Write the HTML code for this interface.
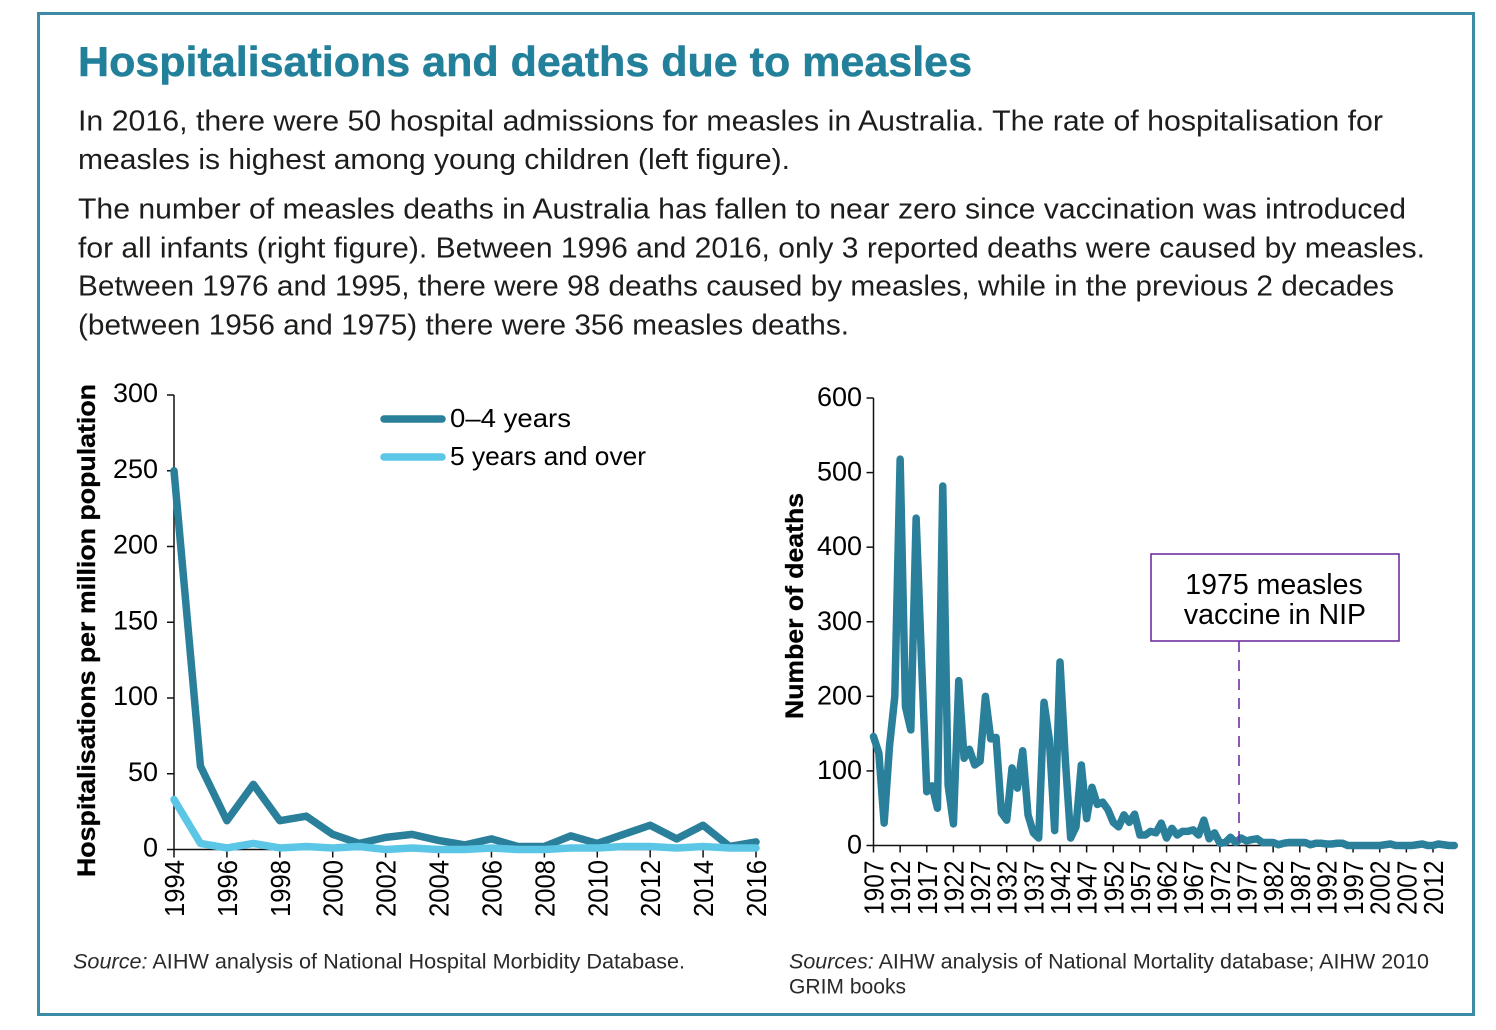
<!DOCTYPE html>
<html lang="en">
<head>
<meta charset="utf-8">
<title>Hospitalisations and deaths due to measles</title>
<style>
html,body{margin:0;padding:0;background:#fff;width:1496px;height:1030px;overflow:hidden}
svg{display:block}
text{font-family:"Liberation Sans",Arial,sans-serif}
.body-line{font-size:28.5px;fill:#1d1d1b}
.source{font-size:21.5px;fill:#2a2a2a}
.tick{font-size:27px;fill:#000}
.legend{font-size:26px;fill:#000}
.xtick{font-size:28px;fill:#000}
.axis-title{font-size:25px;font-weight:bold;fill:#000;stroke:#000;stroke-width:.3}
</style>
</head>
<body>
<svg id="root" width="1496" height="1030" viewBox="0 0 1496 1030" xmlns="http://www.w3.org/2000/svg">
  <rect x="38.5" y="13.5" width="1435" height="1001" fill="#fff" stroke="#3a8ba3" stroke-width="3"/>
  <text x="78" y="76" font-size="42" font-weight="bold" fill="#23809b" stroke="#23809b" stroke-width=".5" textLength="894" lengthAdjust="spacingAndGlyphs">Hospitalisations and deaths due to measles</text>
  <g>
    <text class="body-line" x="78" y="130.5" textLength="1305" lengthAdjust="spacingAndGlyphs">In 2016, there were 50 hospital admissions for measles in Australia. The rate of hospitalisation for</text>
    <text class="body-line" x="78" y="169" textLength="712" lengthAdjust="spacingAndGlyphs">measles is highest among young children (left figure).</text>
    <text class="body-line" x="78" y="218.5" textLength="1328" lengthAdjust="spacingAndGlyphs">The number of measles deaths in Australia has fallen to near zero since vaccination was introduced</text>
    <text class="body-line" x="78" y="257.5" textLength="1347" lengthAdjust="spacingAndGlyphs">for all infants (right figure). Between 1996 and 2016, only 3 reported deaths were caused by measles.</text>
    <text class="body-line" x="78" y="295.5" textLength="1316" lengthAdjust="spacingAndGlyphs">Between 1976 and 1995, there were 98 deaths caused by measles, while in the previous 2 decades</text>
    <text class="body-line" x="78" y="334.5" textLength="771" lengthAdjust="spacingAndGlyphs">(between 1956 and 1975) there were 356 measles deaths.</text>
  </g>

  <g id="left-chart">
    <text class="axis-title" transform="translate(95,877) rotate(-90)" textLength="493" lengthAdjust="spacingAndGlyphs">Hospitalisations per million population</text>
  </g>
  <g id="right-chart">
    <text class="axis-title" transform="translate(803,719) rotate(-90)" textLength="226" lengthAdjust="spacingAndGlyphs">Number of deaths</text>
  </g>

  <g>
    <line x1="384" y1="419" x2="442" y2="419" stroke="#2a7f9b" stroke-width="7.5" stroke-linecap="round"/>
    <text class="legend" x="450" y="427" textLength="121" lengthAdjust="spacingAndGlyphs">0–4 years</text>
    <line x1="384" y1="457" x2="442" y2="457" stroke="#5cc6e6" stroke-width="7.5" stroke-linecap="round"/>
    <text class="legend" x="450" y="465" textLength="196" lengthAdjust="spacingAndGlyphs">5 years and over</text>
  </g>

  <g>
    <line x1="1239" y1="641" x2="1239" y2="846" stroke="#7030a0" stroke-width="1.6" stroke-dasharray="11 8"/>
    <rect x="1151" y="554" width="248" height="87" fill="#fff" stroke="#7030a0" stroke-width="1.6"/>
    <text x="1274" y="594" font-size="28.5" text-anchor="middle" fill="#000">1975 measles</text>
    <text x="1275" y="624" font-size="28.5" text-anchor="middle" fill="#000">vaccine in NIP</text>
  </g>

  <text class="source" x="73" y="968.5" textLength="612" lengthAdjust="spacingAndGlyphs"><tspan font-style="italic">Source:</tspan> AIHW analysis of National Hospital Morbidity Database.</text>
  <text class="source" x="789" y="968.5" textLength="640" lengthAdjust="spacingAndGlyphs"><tspan font-style="italic">Sources:</tspan> AIHW analysis of National Mortality database; AIHW 2010</text>
  <text class="source" x="789" y="993.5" textLength="117" lengthAdjust="spacingAndGlyphs">GRIM books</text>
</svg>
<script>
const hospYears = [1994,1995,1996,1997,1998,1999,2000,2001,2002,2003,2004,2005,2006,2007,2008,2009,2010,2011,2012,2013,2014,2015,2016];
const hospUnder5 = [250,55,19,43,19,22,10,4,8,10,6,3,7,2,2,9,4,10,16,7,16,2,5];
const hospOver5 = [33,4,1,4,1,2,1,2,0,1,0,0,1,0,0,1,1,2,2,1,2,1,1];
const hospYTicks = [0,50,100,150,200,250,300];
const hospXTicks = [1994,1996,1998,2000,2002,2004,2006,2008,2010,2012,2014,2016];

const deathYears = [1907,1908,1909,1910,1911,1912,1913,1914,1915,1916,1917,1918,1919,1920,1921,1922,1923,1924,1925,1926,1927,1928,1929,1930,1931,1932,1933,1934,1935,1936,1937,1938,1939,1940,1941,1942,1943,1944,1945,1946,1947,1948,1949,1950,1951,1952,1953,1954,1955,1956,1957,1958,1959,1960,1961,1962,1963,1964,1965,1966,1967,1968,1969,1970,1971,1972,1973,1974,1975,1976,1977,1978,1979,1980,1981,1982,1983,1984,1985,1986,1987,1988,1989,1990,1991,1992,1993,1994,1995,1996,1997,1998,1999,2000,2001,2002,2003,2004,2005,2006,2007,2008,2009,2010,2011,2012,2013,2014,2015,2016];
const deathCounts = [146,124,30,133,200,518,186,155,439,250,72,80,50,482,81,29,221,117,129,108,113,200,143,145,44,34,104,77,127,41,17,10,192,142,20,246,115,10,25,108,36,78,55,58,48,31,25,41,31,42,14,14,19,17,30,10,23,14,19,19,21,14,34,9,17,3,4,11,4,10,6,8,9,4,4,4,1,3,4,4,4,4,1,3,3,2,2,3,3,0,0,0,0,0,0,0,1,2,0,0,0,0,1,2,0,0,2,1,0,0];
const deathYTicks = [0,100,200,300,400,500,600];
const deathXTicks = [1907,1912,1917,1922,1927,1932,1937,1942,1947,1952,1957,1962,1967,1972,1977,1982,1987,1992,1997,2002,2007,2012];

const SVG_NS = 'http://www.w3.org/2000/svg';
function make(parent, tag, attrs, content) {
  const el = document.createElementNS(SVG_NS, tag);
  for (const k in attrs) el.setAttribute(k, attrs[k]);
  if (content !== undefined) el.textContent = content;
  parent.appendChild(el);
  return el;
}
function scale(d0, d1, r0, r1) {
  return v => r0 + (v - d0) * (r1 - r0) / (d1 - d0);
}
function pathFor(xs, ys, xf, yf) {
  return xs.map((x, i) => (i ? 'L' : 'M') + xf(x).toFixed(2) + ' ' + yf(ys[i]).toFixed(2)).join(' ');
}

const xHosp = scale(1994, 2016, 174, 756);
const yHosp = scale(0, 300, 849.5, 395);
const xDeath = scale(1907, 2012, 873.5, 1433);
const yDeath = scale(0, 600, 845.5, 398);
const AXIS = '#111';

const leftG = document.getElementById('left-chart');
const rightG = document.getElementById('right-chart');

/* left chart axes */
let el = make(leftG, 'line', {x1: xHosp(1994), y1: yHosp(300), x2: xHosp(1994), y2: yHosp(0), stroke: AXIS, 'stroke-width': 1.5});


el = make(leftG, 'line', {x1: xHosp(1994), y1: yHosp(0), x2: xHosp(2016), y2: yHosp(0), stroke: AXIS, 'stroke-width': 1.5});


hospYTicks.forEach(v => {
  const t = make(leftG, 'line', {x1: xHosp(1994) - 7, y1: yHosp(v), x2: xHosp(1994), y2: yHosp(v), stroke: AXIS, 'stroke-width': 1.5});
  
  
  const l = make(leftG, 'text', {class: 'tick', x: 158, y: yHosp(v) + 7, 'text-anchor': 'end'}, v);
  
  
});
hospXTicks.forEach(v => {
  const t = make(leftG, 'line', {x1: xHosp(v), y1: yHosp(0), x2: xHosp(v), y2: yHosp(0) + 8, stroke: AXIS, 'stroke-width': 1.5});
  
  
  const l = make(leftG, 'text', {class: 'xtick', transform: 'translate(' + (xHosp(v) + 10) + ',917) rotate(-90)', textLength: 57, lengthAdjust: 'spacingAndGlyphs'}, v);
  
  
});

/* left chart series */
el = make(leftG, 'path', {d: pathFor(hospYears, hospUnder5, xHosp, yHosp), fill: 'none', stroke: '#2a7f9b', 'stroke-width': 7.5, 'stroke-linejoin': 'round', 'stroke-linecap': 'round'});


el = make(leftG, 'path', {d: pathFor(hospYears, hospOver5, xHosp, yHosp), fill: 'none', stroke: '#5cc6e6', 'stroke-width': 7.5, 'stroke-linejoin': 'round', 'stroke-linecap': 'round'});



/* right chart axes */
el = make(rightG, 'line', {x1: xDeath(1907), y1: yDeath(600), x2: xDeath(1907), y2: yDeath(0), stroke: AXIS, 'stroke-width': 1.5});


el = make(rightG, 'line', {x1: xDeath(1907), y1: yDeath(0), x2: xDeath(2016), y2: yDeath(0), stroke: AXIS, 'stroke-width': 1.5});


deathYTicks.forEach(v => {
  const t = make(rightG, 'line', {x1: xDeath(1907) - 7, y1: yDeath(v), x2: xDeath(1907), y2: yDeath(v), stroke: AXIS, 'stroke-width': 1.5});
  
  
  const l = make(rightG, 'text', {class: 'tick', x: 862, y: yDeath(v) + 8, 'text-anchor': 'end'}, v);
  
  
});
deathXTicks.forEach(v => {
  const t = make(rightG, 'line', {x1: xDeath(v), y1: yDeath(0), x2: xDeath(v), y2: yDeath(0) + 7, stroke: AXIS, 'stroke-width': 1.5});
  
  
  const l = make(rightG, 'text', {class: 'xtick', transform: 'translate(' + (xDeath(v) + 10) + ',915) rotate(-90)', textLength: 54.5, lengthAdjust: 'spacingAndGlyphs'}, v);
  
  
});

/* right chart series */
el = make(rightG, 'path', {d: pathFor(deathYears, deathCounts, xDeath, yDeath), fill: 'none', stroke: '#2a7f9b', 'stroke-width': 7.5, 'stroke-linejoin': 'round', 'stroke-linecap': 'round'});


</script>
</body>
</html>
